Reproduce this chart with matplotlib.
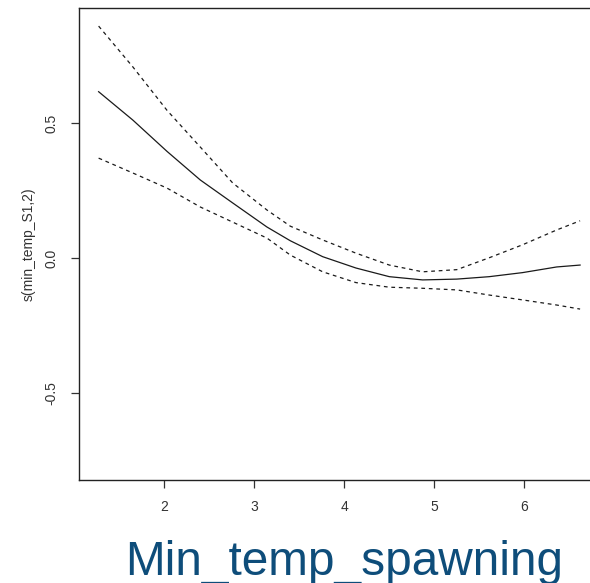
import matplotlib
matplotlib.use("Agg")
import matplotlib.pyplot as plt

plt.rcParams['font.family'] = ['Liberation Sans', 'DejaVu Sans']

# Data
temp = [1.27, 1.65, 2.03, 2.40, 2.76, 3.14, 3.40, 3.76, 4.13, 4.50, 4.87, 5.25, 5.61, 5.98, 6.36, 6.62]
fit = [0.617, 0.512, 0.396, 0.290, 0.205, 0.116, 0.065, 0.006, -0.036, -0.068, -0.080, -0.077, -0.068, -0.053, -0.032, -0.025]
upper = [0.860, 0.709, 0.548, 0.412, 0.279, 0.179, 0.119, 0.068, 0.019, -0.025, -0.050, -0.042, 0.002, 0.050, 0.105, 0.139]
lower = [0.371, 0.316, 0.260, 0.190, 0.134, 0.075, 0.012, -0.050, -0.090, -0.107, -0.111, -0.117, -0.136, -0.154, -0.173, -0.188]

xticks = [2, 3, 4, 5, 6]
yticks = [-0.5, 0.0, 0.5]
ytick_labels = ["-0.5", "0.0", "0.5"]
ylabel = "s(min_temp_S1,2)"
title = "Min_temp_spawning"

W, H = 590, 583
fig = plt.figure(figsize=(W / 100, H / 100), dpi=100)
ax = fig.add_axes([79 / W, (H - 480) / H, (599 - 79) / W, (480 - 8) / H])

line_color = '#1a1a1a'
ax.plot(temp, fit, color=line_color, lw=0.9)
ax.plot(temp, upper, color=line_color, lw=0.9, dashes=(3, 3))
ax.plot(temp, lower, color=line_color, lw=0.9, dashes=(3, 3))

ax.set_xlim(1.052, 6.83)
ax.set_ylim(-0.821, 0.927)
ax.set_xticks(xticks)
ax.set_xticklabels([str(t) for t in xticks])
ax.set_yticks(yticks)
ax.set_yticklabels(ytick_labels, rotation=90, va='center')

for s in ax.spines.values():
    s.set_color('#222222')
    s.set_linewidth(1.0)

ax.tick_params(axis='both', length=5.5, width=0.9, color='#333333',
               labelsize=10, labelcolor='#333333', pad=9)
ax.set_ylabel(ylabel, fontsize=10, color='#333333', labelpad=10)
ax.yaxis.set_label_coords(-(79 - 36) / (599 - 79), 0.5)

fig.text(344 / W, (H - 575) / H, title, ha='center', va='baseline',
         fontsize=34.4, color='#0e4d7a')

fig.savefig("out.png", dpi=100)
